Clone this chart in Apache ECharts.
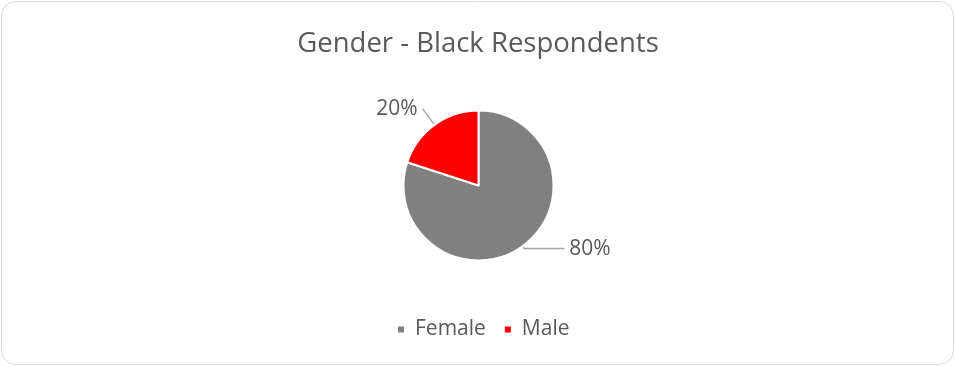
<!DOCTYPE html>
<html>
<head>
<meta charset="utf-8">
<script src="https://cdn.jsdelivr.net/npm/echarts@6/dist/echarts.min.js"></script>
<style>
  html, body { margin: 0; padding: 0; background: #fff; }
  #chart { width: 956px; height: 367px; }
</style>
</head>
<body>
<div id="chart"></div>
<script>
// Gender split of Black respondents
const categories = ['Female', 'Male'];
const shares = [80, 20];
const colors = ['#808080', '#ff0000'];

const fontFamily = '"Open Sans", "Liberation Sans", sans-serif';
const textColor = '#595959';

const chart = echarts.init(document.getElementById('chart'), null, { renderer: 'canvas' });

// per-slice leader line and label tweaks
const labelLines = [{ length: 3, length2: 40 }, { length: 20, length2: 0 }];
const labelPads = [[0, 0, 12, 0], [0, 0, 0, 0]];

chart.setOption({
  animation: false,
  title: {
    text: 'Gender - Black Respondents',
    left: 'center',
    top: 25,
    textStyle: { fontFamily, fontSize: 27.5, fontWeight: 'normal', color: textColor }
  },
  graphic: [{
    type: 'rect',
    shape: { x: 1.5, y: 1.5, width: 952, height: 363, r: 14 },
    style: { fill: 'none', stroke: '#d9d9d9', lineWidth: 1 },
    silent: true
  }],
  legend: {
    bottom: 22,
    left: 391,
    icon: 'rect',
    itemWidth: 8,
    itemHeight: 8,
    itemGap: 17,
    textStyle: { fontFamily, fontSize: 21, color: textColor, padding: [0, 0, 0, 5] },
    data: categories
  },
  series: [{
    type: 'pie',
    center: [478.5, 185.5],
    radius: [0, 75],
    startAngle: 90,
    clockwise: true,
    itemStyle: { borderColor: '#fff', borderWidth: 2 },
    label: {
      show: true,
      formatter: p => p.value + '%',
      fontFamily,
      fontSize: 21,
      color: textColor,
      distanceToLabelLine: 5
    },
    labelLine: {
      show: true,
      lineStyle: { color: '#a6a6a6', width: 1.5 }
    },
    data: categories.map((name, i) => ({
      name,
      value: shares[i],
      itemStyle: { color: colors[i] },
      label: { padding: labelPads[i] },
      labelLine: labelLines[i]
    }))
  }]
});
</script>
</body>
</html>
